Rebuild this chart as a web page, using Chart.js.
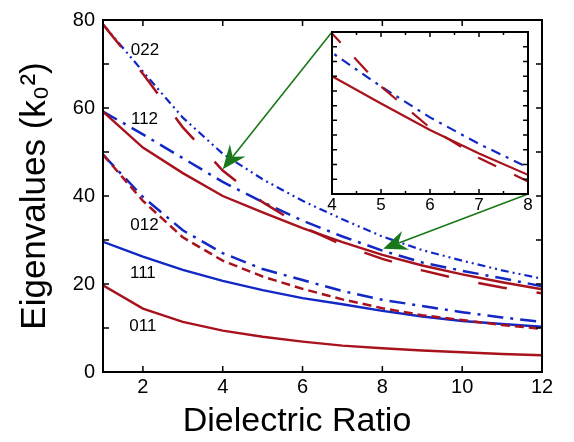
<!DOCTYPE html>
<html>
<head>
<meta charset="utf-8">
<script src="https://cdn.jsdelivr.net/npm/chart.js@4/dist/chart.umd.min.js"></script>
<style>
  body { margin: 0; background: #fff; }
  #wrap { position: relative; width: 574px; height: 442px; }
  #wrap canvas { position: absolute; left: 0; top: 0; }
  #inset { pointer-events: none; }
</style>
</head>
<body>
<div id="wrap">
  <canvas id="main" width="574" height="442"></canvas>
  <canvas id="inset" width="574" height="442"></canvas>
</div>
<script>
// dielectric ratio samples
const ratio = [1, 2, 3, 4, 5, 6, 7, 8, 9, 10, 11, 12];

// eigenvalues
const m011 = [19.7, 14.4, 11.4, 9.4, 8.0, 6.9, 6.0, 5.4, 4.9, 4.5, 4.1, 3.8];
const m111 = [29.6, 26.2, 23.2, 20.7, 18.6, 16.8, 15.4, 13.9, 12.6, 11.6, 10.9, 10.3];
const m012dashDot = [49.4, 39.8, 32.2, 27.0, 23.4, 20.9, 18.4, 16.4, 15.0, 13.6, 12.4, 11.4];
const m012dash = [49.4, 38.9, 30.6, 25.3, 21.7, 18.9, 16.5, 14.5, 12.9, 11.8, 10.7, 9.8];
const m112dashDot = [59.2, 54.0, 48.6, 43.2, 38.6, 34.4, 30.8, 27.6, 24.9, 23.0, 21.3, 19.5];
const m112 = [59.2, 51.0, 45.2, 40.0, 36.3, 32.7, 29.5, 26.6, 24.2, 22.2, 20.4, 18.8];
const m022dashDotDot = [79.0, 68.3, 57.8, 49.6, 43.8, 38.9, 34.7, 30.8, 27.7, 25.3, 23.1, 21.2];
const m022longDash = [79.0, 67.8, 55.6, 45.8, 38.6, 33.0, 28.9, 25.7, 23.1, 20.9, 19.2, 17.9];

// curve labels
const curveLabels = ['022', '112', '012', '111', '011'];
const labelX = [2.05, 2.04, 2.04, 2.0, 2.0];
const labelY = [73.2, 57.4, 33.3, 22.5, 10.4];

// ticks
const xTicks = [2, 4, 6, 8, 10, 12];
const yTicks = [0, 20, 40, 60, 80];
const yMarks = [10, 20, 30, 40, 50, 60, 70];
const insetXTicks = [4, 5, 6, 7, 8];
const insetXMinor = [4.5, 5.5, 6.5, 7.5];
const insetYMarks = [26, 28, 30, 32, 34, 36, 38, 40, 42, 44];

// arrows: from inset corner (inset coords) to main plot point
const arrowFrom = [[4, 46], [8, 24]];
const arrowTo = [[4, 46.1], [8.02, 28.0]];

const RED = '#a8121c';
const BLUE = '#1228c4';
const GREEN = '#19781a';

Chart.defaults.font.family = 'Liberation Sans, Arial, sans-serif';
Chart.defaults.color = '#000';

function pts(arr) {
  return ratio.map((x, i) => ({ x: x, y: arr[i] }));
}

function line(arr, color, dash, width) {
  return {
    data: pts(arr),
    borderColor: color,
    borderWidth: width || 2.4,
    borderDash: dash || [],
    pointRadius: 0,
    fill: false,
    tension: 0
  };
}

function frameTicks(cfg) {
  return {
    id: 'frameTicks',
    afterDraw(chart) {
      const ctx = chart.ctx;
      const a = chart.chartArea;
      const x = chart.scales.x, y = chart.scales.y;
      ctx.save();
      ctx.strokeStyle = '#000';
      ctx.lineWidth = 1.5;
      ctx.beginPath();
      cfg.xMajor.forEach(v => {
        const px = x.getPixelForValue(v);
        ctx.moveTo(px, a.bottom); ctx.lineTo(px, a.bottom - cfg.len);
        ctx.moveTo(px, a.top); ctx.lineTo(px, a.top + cfg.len);
      });
      (cfg.xMinor || []).forEach(v => {
        const px = x.getPixelForValue(v);
        ctx.moveTo(px, a.bottom); ctx.lineTo(px, a.bottom - cfg.minorLen);
        ctx.moveTo(px, a.top); ctx.lineTo(px, a.top + cfg.minorLen);
      });
      cfg.yMarks.forEach(v => {
        const py = y.getPixelForValue(v);
        ctx.moveTo(a.left, py); ctx.lineTo(a.left + cfg.len, py);
        ctx.moveTo(a.right, py); ctx.lineTo(a.right - cfg.len, py);
      });
      ctx.stroke();
      ctx.lineWidth = 2;
      ctx.strokeRect(a.left, a.top, a.right - a.left, a.bottom - a.top);
      ctx.restore();
    }
  };
}

const curveText = {
  id: 'curveText',
  afterDatasetsDraw(chart) {
    const ctx = chart.ctx;
    ctx.save();
    ctx.font = '17px Liberation Sans, Arial, sans-serif';
    ctx.fillStyle = '#000';
    ctx.textAlign = 'center';
    ctx.textBaseline = 'middle';
    curveLabels.forEach((t, i) => {
      ctx.fillText(t, chart.scales.x.getPixelForValue(labelX[i]), chart.scales.y.getPixelForValue(labelY[i]));
    });
    ctx.restore();
  }
};

const mainChart = new Chart(document.getElementById('main'), {
  type: 'line',
  data: {
    datasets: [
      line(m022longDash, RED, [29, 30], 2.5),
      line(m022dashDotDot, BLUE, [8, 4, 2, 4, 2, 4], 2.2),
      line(m112, RED),
      line(m112dashDot, BLUE, [16, 7, 3, 7], 2.5),
      line(m012dash, RED, [9, 5], 2.5),
      line(m012dashDot, BLUE, [16, 7, 3, 7], 2.5),
      line(m111, BLUE),
      line(m011, RED)
    ]
  },
  options: {
    responsive: false,
    animation: false,
    layout: { padding: { top: 18, right: 32, left: 0, bottom: 0 } },
    plugins: { legend: { display: false }, tooltip: { enabled: false } },
    scales: {
      x: {
        type: 'linear',
        min: 1,
        max: 12,
        afterBuildTicks: s => { s.ticks = xTicks.map(v => ({ value: v })); },
        afterFit: s => { s.height = 70; },
        grid: { display: false, drawTicks: false },
        border: { display: false },
        ticks: { font: { size: 20 }, padding: 3, autoSkip: false, maxRotation: 0 },
        title: { display: true, text: 'Dielectric Ratio\u2002\u2002\u2002', font: { size: 34 }, padding: { top: 0, bottom: 0 } }
      },
      y: {
        min: 0,
        max: 80,
        afterBuildTicks: s => { s.ticks = yTicks.map(v => ({ value: v })); },
        afterFit: s => { s.width = 103; },
        grid: { display: false, drawTicks: false },
        border: { display: false },
        ticks: { font: { size: 20 }, padding: 8 },
        title: { display: true, text: 'Eigenvalues (k\u2080\u00b2)', font: { size: 35 }, padding: { top: 14, bottom: 0 } }
      }
    }
  },
  plugins: [frameTicks({ xMajor: xTicks, yMarks: yMarks, len: 6 }), curveText]
});

function drawArrow(ctx, x0, y0, x1, y1) {
  const ang = Math.atan2(y1 - y0, x1 - x0);
  const c = Math.cos(ang), s = Math.sin(ang);
  const L = 24, W = 10, N = 16;
  const bx = x1 - L * c, by = y1 - L * s;
  ctx.beginPath();
  ctx.moveTo(x0, y0);
  ctx.lineTo(x1 - N * c, y1 - N * s);
  ctx.stroke();
  ctx.beginPath();
  ctx.moveTo(x1, y1);
  ctx.lineTo(bx + W * s, by - W * c);
  ctx.lineTo(x1 - N * c, y1 - N * s);
  ctx.lineTo(bx - W * s, by + W * c);
  ctx.closePath();
  ctx.fill();
}

const insetBg = {
  id: 'insetBg',
  beforeDraw(chart) {
    const a = chart.chartArea;
    chart.ctx.save();
    chart.ctx.fillStyle = '#fff';
    chart.ctx.fillRect(a.left, a.top, a.right - a.left, a.bottom - a.top);
    chart.ctx.restore();
  },
  afterDraw(chart) {
    const ctx = chart.ctx;
    ctx.save();
    ctx.strokeStyle = GREEN;
    ctx.fillStyle = GREEN;
    ctx.lineWidth = 1.6;
    arrowFrom.forEach((f, i) => {
      const x0 = chart.scales.x.getPixelForValue(f[0]);
      const y0 = chart.scales.y.getPixelForValue(f[1]);
      const x1 = mainChart.scales.x.getPixelForValue(arrowTo[i][0]);
      const y1 = mainChart.scales.y.getPixelForValue(arrowTo[i][1]);
      drawArrow(ctx, x0, y0, x1, y1);
    });
    ctx.restore();
  }
};

const insetChart = new Chart(document.getElementById('inset'), {
  type: 'line',
  data: {
    datasets: [
      line(m022longDash, RED, [20, 20], 2.2),
      line(m112dashDot, BLUE, [10, 6, 3, 6], 2.2),
      line(m112, RED, [], 2.2)
    ]
  },
  options: {
    responsive: false,
    animation: false,
    layout: { padding: { top: 32, right: 46, left: 332, bottom: 228 } },
    plugins: { legend: { display: false }, tooltip: { enabled: false } },
    scales: {
      x: {
        type: 'linear',
        min: 4,
        max: 8,
        afterBuildTicks: s => { s.ticks = insetXTicks.map(v => ({ value: v })); },
        afterFit: s => { s.height = 20; },
        grid: { display: false, drawTicks: false },
        border: { display: false },
        ticks: { font: { size: 17 }, padding: 1, autoSkip: false, maxRotation: 0 }
      },
      y: {
        display: false,
        min: 24,
        max: 46
      }
    }
  },
  plugins: [insetBg, frameTicks({ xMajor: insetXTicks, xMinor: insetXMinor, yMarks: insetYMarks, len: 5, minorLen: 3 })]
});
</script>
</body>
</html>
